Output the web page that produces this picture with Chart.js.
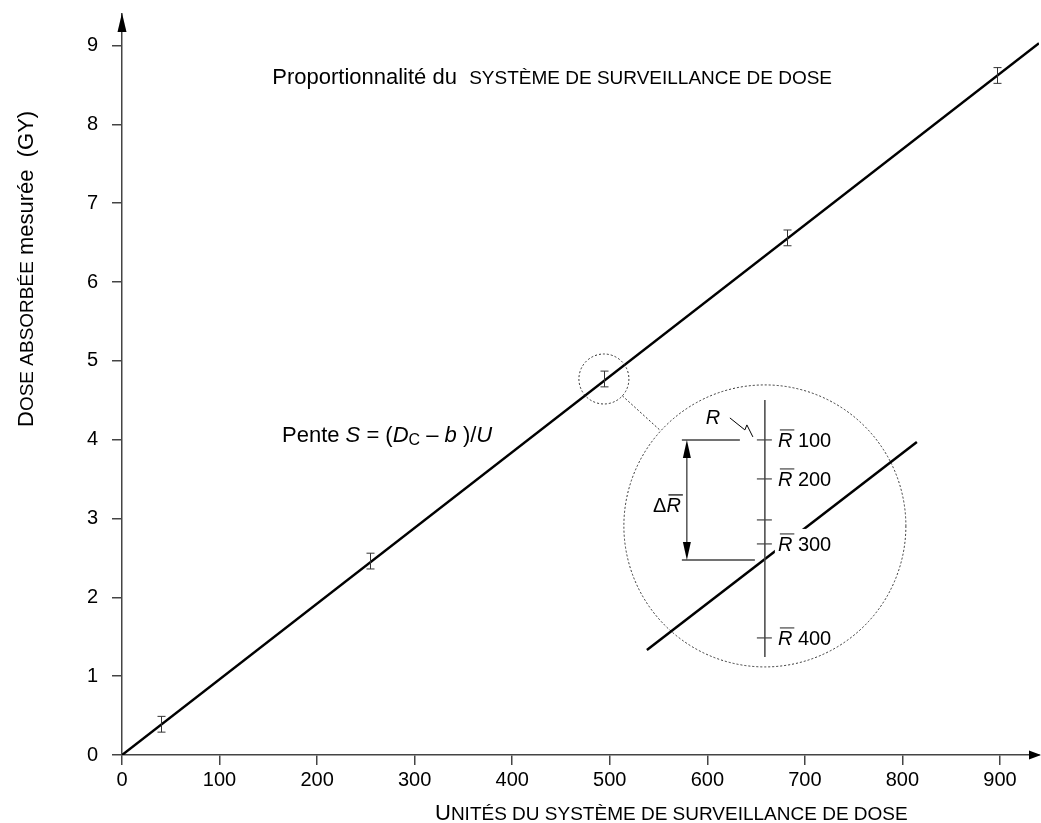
<!DOCTYPE html>
<html>
<head>
<meta charset="utf-8">
<script src="https://cdn.jsdelivr.net/npm/chart.js@4.4.1/dist/chart.umd.min.js"></script>
<style>
  html, body { margin: 0; padding: 0; background: #fff; }
  #wrap { width: 1041px; height: 823px; position: relative; }
</style>
</head>
<body>
<div id="wrap"><canvas id="doseChart"></canvas></div>
<script>
// measured points (monitor units vs absorbed dose, Gy) with error bars
const unitsMeasured = [40, 254, 494, 682, 897];
const doseMeasured = [0.39, 2.46, 4.77, 6.56, 8.62];
const doseError = [0.1, 0.1, 0.1, 0.1, 0.1];

// fitted proportionality line
const fitUnits = [0, 940];
const fitDose = [0, 9.03];

// readings shown in the magnified inset
const insetReadings = ["100", "200", "", "300", "400"];

const xMax = 940;
const yMax = 9.4;

const FONT = "'Liberation Sans', Arial, sans-serif";
Chart.defaults.font.family = FONT;

function drawRuns(ctx, x, y, runs) {
  runs.forEach((r) => {
    ctx.font = r.font;
    ctx.fillText(r.t, x, y + (r.dy || 0));
    x += ctx.measureText(r.t).width;
  });
  return x;
}

function arrowHead(ctx, tx, ty, dx, dy, len, half) {
  // tip at (tx,ty), pointing along (dx,dy)
  const bx = tx - dx * len, by = ty - dy * len;
  ctx.beginPath();
  ctx.moveTo(tx, ty);
  ctx.lineTo(bx - dy * half, by + dx * half);
  ctx.lineTo(bx + dy * half, by - dx * half);
  ctx.closePath();
  ctx.fill();
}

const extras = {
  id: "extras",
  afterDatasetsDraw(chart) {
    const { ctx, chartArea, scales } = chart;
    const x = scales.x, y = scales.y;
    ctx.save();

    // error bars
    ctx.strokeStyle = "#333";
    ctx.lineWidth = 1;
    unitsMeasured.forEach((u, i) => {
      const px = Math.round(x.getPixelForValue(u)) + 0.5;
      const top = y.getPixelForValue(doseMeasured[i] + doseError[i]);
      const bot = y.getPixelForValue(doseMeasured[i] - doseError[i]);
      ctx.beginPath();
      ctx.moveTo(px, top); ctx.lineTo(px, bot);
      ctx.moveTo(px - 4, top); ctx.lineTo(px + 4, top);
      ctx.moveTo(px - 4, bot); ctx.lineTo(px + 4, bot);
      ctx.stroke();
    });

    // axis arrows
    ctx.fillStyle = "#000";
    arrowHead(ctx, chartArea.left, chartArea.top - 1, 0, -1, 19, 4.5);
    arrowHead(ctx, chartArea.right + 2, chartArea.bottom, 1, 0, 12, 4.5);

    // small circle round the middle point
    const sx = x.getPixelForValue(unitsMeasured[2]);
    const sy = y.getPixelForValue(doseMeasured[2]);
    const sr = 25;
    // magnified inset
    const cx = x.getPixelForValue(659);
    const cy = y.getPixelForValue(2.906);
    const R = 141;

    ctx.strokeStyle = "#333";
    ctx.lineWidth = 1;
    ctx.setLineDash([2, 2]);
    ctx.beginPath(); ctx.arc(sx, sy, sr, 0, Math.PI * 2); ctx.stroke();
    ctx.beginPath(); ctx.arc(cx, cy, R, 0, Math.PI * 2); ctx.stroke();
    const ang = Math.atan2(cy - sy, cx - sx);
    ctx.beginPath();
    ctx.moveTo(sx + sr * Math.cos(ang), sy + sr * Math.sin(ang));
    ctx.lineTo(cx - R * Math.cos(ang), cy - R * Math.sin(ang));
    ctx.stroke();
    ctx.setLineDash([]);

    // inset fit line
    ctx.strokeStyle = "#000";
    ctx.lineWidth = 2.5;
    ctx.beginPath();
    ctx.moveTo(cx - 118, cy + 124);
    ctx.lineTo(cx + 152, cy - 84);
    ctx.stroke();

    // inset reading scale
    ctx.strokeStyle = "#444";
    ctx.lineWidth = 1.5;
    ctx.beginPath();
    ctx.moveTo(cx, cy - 126); ctx.lineTo(cx, cy + 131);
    ctx.stroke();
    const tickOff = [-86, -47, -6, 18, 112];
    ctx.lineWidth = 1.2;
    tickOff.forEach((d) => {
      ctx.beginPath();
      ctx.moveTo(cx - 8, cy + d); ctx.lineTo(cx + 7, cy + d);
      ctx.stroke();
    });

    ctx.textBaseline = "alphabetic";
    ctx.textAlign = "left";
    ctx.fillStyle = "#000";
    tickOff.forEach((d, i) => {
      const lab = insetReadings[i];
      if (!lab) return;
      const lx = cx + 13, base = cy + d + 7;
      ctx.font = "italic 20px " + FONT;
      const rw = ctx.measureText("R").width;
      ctx.font = "20px " + FONT;
      const tw = ctx.measureText(" " + lab).width;
      if (lab === "300") {
        ctx.fillStyle = "#fff";
        ctx.fillRect(lx - 3, cy + d - 15, rw + tw + 6, 26);
        ctx.fillStyle = "#000";
      }
      drawRuns(ctx, lx, base, [
        { t: "R", font: "italic 20px " + FONT },
        { t: " " + lab, font: "20px " + FONT },
      ]);
      ctx.lineWidth = 1.2;
      ctx.beginPath();
      ctx.moveTo(lx + 2, base - 17); ctx.lineTo(lx + rw + 2, base - 17);
      ctx.stroke();
    });

    // delta R dimension
    ctx.strokeStyle = "#444";
    ctx.lineWidth = 1.5;
    ctx.beginPath();
    ctx.moveTo(cx - 83, cy - 86); ctx.lineTo(cx - 25, cy - 86);
    ctx.moveTo(cx - 83, cy + 34); ctx.lineTo(cx - 10, cy + 34);
    ctx.stroke();
    ctx.strokeStyle = "#000";
    ctx.lineWidth = 1;
    ctx.beginPath();
    ctx.moveTo(cx - 78, cy - 80); ctx.lineTo(cx - 78, cy + 28);
    ctx.stroke();
    ctx.fillStyle = "#000";
    arrowHead(ctx, cx - 78, cy - 86, 0, -1, 18, 4);
    arrowHead(ctx, cx - 78, cy + 34, 0, 1, 18, 4);

    ctx.font = "20px " + FONT;
    const dw = ctx.measureText("\u0394").width;
    ctx.font = "italic 20px " + FONT;
    const rw2 = ctx.measureText("R").width;
    const dx0 = cx - 84 - dw - rw2;
    drawRuns(ctx, dx0, cy - 14, [
      { t: "\u0394", font: "20px " + FONT },
      { t: "R", font: "italic 20px " + FONT },
    ]);
    ctx.lineWidth = 1.2;
    ctx.beginPath();
    ctx.moveTo(dx0 + dw + 2, cy - 31); ctx.lineTo(dx0 + dw + rw2 + 2, cy - 31);
    ctx.stroke();

    // single reading R with zigzag leader
    ctx.font = "italic 20px " + FONT;
    ctx.textAlign = "center";
    ctx.fillText("R", cx - 52, cy - 102);
    ctx.textAlign = "left";
    ctx.lineWidth = 1;
    ctx.beginPath();
    ctx.moveTo(cx - 35, cy - 108);
    ctx.lineTo(cx - 20, cy - 96);
    ctx.lineTo(cx - 18, cy - 101);
    ctx.lineTo(cx - 12, cy - 89);
    ctx.stroke();

    // texts
    ctx.fillStyle = "#000";
    drawRuns(ctx, x.getPixelForValue(154), y.getPixelForValue(8.515), [
      { t: "Proportionnalité du  ", font: "22px " + FONT },
      { t: "SYSTÈME DE SURVEILLANCE DE DOSE", font: "19px " + FONT },
    ]);
    drawRuns(ctx, x.getPixelForValue(164), y.getPixelForValue(3.97), [
      { t: "Pente ", font: "22px " + FONT },
      { t: "S", font: "italic 22px " + FONT },
      { t: " = (", font: "22px " + FONT },
      { t: "D", font: "italic 22px " + FONT },
      { t: "C", font: "16px " + FONT, dy: 3 },
      { t: " – ", font: "22px " + FONT },
      { t: "b", font: "italic 22px " + FONT },
      { t: " )/", font: "22px " + FONT },
      { t: "U", font: "italic 22px " + FONT },
    ]);

    // x title
    drawRuns(ctx, 435, 820, [
      { t: "U", font: "22px " + FONT },
      { t: "NITÉS DU SYSTÈME DE SURVEILLANCE DE DOSE", font: "19px " + FONT },
    ]);

    // y title
    ctx.translate(33, 427);
    ctx.rotate(-Math.PI / 2);
    drawRuns(ctx, 0, 0, [
      { t: "D", font: "22px " + FONT },
      { t: "OSE ABSORBÉE", font: "19px " + FONT },
      { t: " mesurée  (GY)", font: "22px " + FONT },
    ]);
    ctx.restore();
  },
};

const axisGrid = { drawOnChartArea: false, tickLength: 10, color: "#444", lineWidth: 1.5 };
const axisBorder = { color: "#444", width: 1.5 };

new Chart(document.getElementById("doseChart"), {
  type: "scatter",
  data: {
    datasets: [
      {
        label: "fit",
        data: fitUnits.map((u, i) => ({ x: u, y: fitDose[i] })),
        showLine: true,
        borderColor: "#000",
        borderWidth: 2.5,
        pointRadius: 0,
      },
      {
        label: "mesures",
        data: unitsMeasured.map((u, i) => ({ x: u, y: doseMeasured[i] })),
        pointRadius: 0,
      },
    ],
  },
  plugins: [extras],
  options: {
    responsive: true,
    maintainAspectRatio: false,
    animation: false,
    layout: { padding: { top: 14, right: 2, left: 0, bottom: 0 } },
    plugins: {
      legend: { display: false },
      tooltip: { enabled: false },
    },
    scales: {
      x: {
        type: "linear",
        min: 0,
        max: xMax,
        afterFit(s) { s.height = 68; s.paddingLeft = 0; s.paddingRight = 0; },
        ticks: { stepSize: 100, includeBounds: false, color: "#000", font: { size: 20 }, padding: 3, maxRotation: 0 },
        grid: axisGrid,
        border: axisBorder,
      },
      y: {
        min: 0,
        max: yMax,
        afterFit(s) { s.width = 122; s.paddingTop = 0; s.paddingBottom = 0; },
        ticks: { stepSize: 1, includeBounds: false, color: "#000", font: { size: 20 }, padding: 14 },
        grid: axisGrid,
        border: axisBorder,
      },
    },
  },
});
</script>
</body>
</html>
